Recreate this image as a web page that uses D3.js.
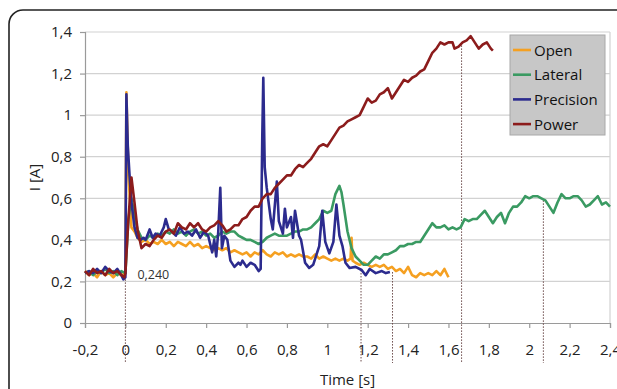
<!DOCTYPE html>
<html>
<head>
<meta charset="utf-8">
<script src="https://cdn.jsdelivr.net/npm/d3@7"></script>
<style>
body{margin:0;background:#fff;}
svg{display:block;font-family:"Open Sans",sans-serif;}
</style>
</head>
<body>
<svg width="617" height="389"></svg>
<script>
var app = app || {};

// values: [time (s), current (A)]
var seriesNames = ["Open", "Lateral", "Precision", "Power"];
var seriesColors = ["#f5a021", "#3a9a62", "#2c2b8e", "#8c1c1c"];

var openData = [[-0.20,0.25],[-0.18,0.23],[-0.16,0.24],[-0.14,0.22],[-0.12,0.25],[-0.10,0.23],[-0.08,0.24],[-0.06,0.22],[-0.04,0.24],[-0.02,0.23],[0.00,0.24],
  [0.005,1.11],[0.015,0.72],[0.03,0.46],[0.045,0.44],[0.06,0.41],[0.08,0.39],[0.10,0.40],[0.12,0.38],[0.14,0.39],[0.16,0.38],[0.18,0.40],[0.20,0.38],
  [0.22,0.39],[0.24,0.37],[0.26,0.39],[0.28,0.38],[0.30,0.37],[0.32,0.39],[0.34,0.37],[0.36,0.38],[0.38,0.36],[0.40,0.37],[0.42,0.36],[0.44,0.35],
  [0.46,0.36],[0.48,0.35],[0.50,0.36],[0.52,0.34],[0.54,0.35],[0.56,0.34],[0.58,0.33],[0.60,0.34],[0.62,0.32],[0.64,0.34],[0.66,0.33],[0.68,0.35],
  [0.70,0.33],[0.72,0.32],[0.74,0.34],[0.76,0.33],[0.78,0.34],[0.80,0.32],[0.82,0.33],[0.84,0.32],[0.86,0.33],[0.88,0.32],[0.90,0.32],[0.92,0.31],
  [0.94,0.33],[0.96,0.31],[0.98,0.32],[1.00,0.31],[1.02,0.30],[1.04,0.31],[1.06,0.30],[1.08,0.31],[1.10,0.30],[1.115,0.31],[1.12,0.41],[1.125,0.30],
  [1.14,0.29],[1.16,0.28],[1.18,0.29],[1.20,0.28],[1.22,0.27],[1.24,0.28],[1.26,0.27],[1.28,0.28],[1.30,0.26],[1.32,0.27],[1.34,0.25],[1.36,0.26],
  [1.38,0.24],[1.40,0.27],[1.42,0.23],[1.44,0.22],[1.46,0.24],[1.48,0.23],[1.50,0.24],[1.52,0.23],[1.54,0.25],[1.56,0.23],[1.58,0.26],[1.60,0.22]];

var lateralData = [[-0.20,0.24],[-0.18,0.25],[-0.16,0.23],[-0.14,0.25],[-0.12,0.24],[-0.10,0.26],[-0.08,0.24],[-0.06,0.25],[-0.04,0.23],[-0.02,0.25],[0.00,0.24],
  [0.015,0.50],[0.03,0.60],[0.045,0.52],[0.06,0.45],[0.08,0.41],[0.10,0.40],[0.12,0.42],[0.14,0.41],[0.16,0.43],[0.18,0.42],[0.20,0.44],[0.22,0.43],
  [0.24,0.45],[0.26,0.43],[0.28,0.44],[0.30,0.42],[0.32,0.44],[0.34,0.45],[0.36,0.43],[0.38,0.44],[0.40,0.42],[0.42,0.43],[0.44,0.41],[0.46,0.42],
  [0.48,0.44],[0.50,0.43],[0.52,0.44],[0.54,0.44],[0.56,0.42],[0.58,0.41],[0.60,0.40],[0.62,0.40],[0.64,0.39],[0.66,0.38],[0.68,0.39],[0.70,0.41],
  [0.72,0.42],[0.74,0.43],[0.76,0.42],[0.78,0.42],[0.80,0.42],[0.82,0.43],[0.84,0.44],[0.86,0.44],[0.88,0.45],[0.90,0.45],[0.92,0.46],[0.94,0.48],
  [0.96,0.50],[0.98,0.54],[1.00,0.53],[1.02,0.54],[1.04,0.62],[1.06,0.66],[1.07,0.63],[1.08,0.57],[1.10,0.44],[1.12,0.36],[1.14,0.32],[1.16,0.30],
  [1.18,0.28],[1.20,0.28],[1.22,0.30],[1.24,0.32],[1.26,0.31],[1.28,0.33],[1.30,0.33],[1.32,0.34],[1.34,0.35],[1.36,0.37],[1.38,0.37],[1.40,0.38],
  [1.42,0.38],[1.44,0.39],[1.46,0.39],[1.48,0.42],[1.50,0.45],[1.52,0.48],[1.54,0.46],[1.56,0.46],[1.58,0.47],[1.60,0.45],[1.62,0.46],[1.64,0.45],
  [1.66,0.46],[1.68,0.50],[1.70,0.49],[1.72,0.50],[1.74,0.50],[1.76,0.52],[1.78,0.54],[1.80,0.51],[1.82,0.48],[1.84,0.51],[1.86,0.53],[1.88,0.48],
  [1.90,0.53],[1.92,0.56],[1.94,0.56],[1.96,0.58],[1.98,0.61],[2.00,0.60],[2.02,0.61],[2.04,0.61],[2.06,0.60],[2.08,0.59],[2.10,0.56],[2.12,0.53],
  [2.14,0.58],[2.16,0.62],[2.18,0.60],[2.20,0.60],[2.22,0.61],[2.24,0.61],[2.26,0.59],[2.28,0.56],[2.30,0.57],[2.32,0.59],[2.34,0.61],[2.36,0.57],
  [2.38,0.58],[2.40,0.56]];

var precisionData = [[-0.20,0.24],[-0.18,0.25],[-0.16,0.24],[-0.14,0.26],[-0.12,0.24],[-0.10,0.27],[-0.08,0.25],[-0.06,0.24],[-0.04,0.26],[-0.02,0.23],[-0.01,0.21],[0.00,0.22],
  [0.005,1.10],[0.012,0.85],[0.02,0.72],[0.03,0.58],[0.045,0.46],[0.06,0.41],[0.075,0.40],[0.09,0.41],[0.10,0.40],[0.12,0.45],[0.135,0.41],[0.15,0.43],
  [0.17,0.42],[0.19,0.46],[0.20,0.50],[0.215,0.45],[0.23,0.44],[0.25,0.42],[0.27,0.46],[0.29,0.43],[0.31,0.44],[0.33,0.42],[0.35,0.45],[0.37,0.41],
  [0.39,0.44],[0.41,0.42],[0.43,0.34],[0.44,0.40],[0.45,0.32],[0.46,0.44],[0.47,0.65],[0.478,0.36],[0.49,0.42],[0.505,0.40],[0.52,0.30],[0.54,0.27],
  [0.56,0.29],[0.57,0.28],[0.58,0.30],[0.60,0.27],[0.62,0.29],[0.64,0.28],[0.66,0.25],[0.67,0.26],[0.678,0.90],[0.683,1.18],[0.69,0.75],[0.70,0.65],
  [0.72,0.50],[0.73,0.45],[0.75,0.68],[0.76,0.49],[0.78,0.43],[0.79,0.55],[0.80,0.46],[0.82,0.51],[0.83,0.41],[0.84,0.54],[0.86,0.42],[0.87,0.40],
  [0.89,0.29],[0.91,0.265],[0.93,0.28],[0.96,0.37],[0.975,0.54],[0.99,0.39],[1.01,0.335],[1.03,0.39],[1.045,0.57],[1.06,0.42],[1.075,0.37],[1.09,0.29],
  [1.11,0.265],[1.14,0.27],[1.17,0.255],[1.19,0.23],[1.21,0.26],[1.24,0.24],[1.27,0.25],[1.29,0.24],[1.31,0.245]];

var powerData = [[-0.20,0.25],[-0.18,0.23],[-0.16,0.26],[-0.14,0.24],[-0.12,0.25],[-0.10,0.23],[-0.08,0.26],[-0.06,0.24],[-0.04,0.25],[-0.02,0.23],[-0.005,0.22],
  [0.00,0.24],[0.015,0.50],[0.03,0.70],[0.045,0.58],[0.06,0.45],[0.08,0.36],[0.10,0.38],[0.12,0.37],[0.14,0.40],[0.16,0.42],[0.18,0.41],[0.20,0.44],
  [0.22,0.45],[0.24,0.43],[0.26,0.48],[0.28,0.46],[0.30,0.45],[0.32,0.48],[0.34,0.46],[0.36,0.48],[0.38,0.45],[0.40,0.44],[0.42,0.46],[0.44,0.47],
  [0.46,0.49],[0.48,0.47],[0.50,0.44],[0.52,0.45],[0.54,0.47],[0.56,0.47],[0.58,0.50],[0.60,0.51],[0.62,0.54],[0.64,0.56],[0.66,0.56],[0.68,0.60],
  [0.70,0.62],[0.72,0.62],[0.74,0.65],[0.76,0.67],[0.78,0.69],[0.80,0.71],[0.82,0.71],[0.84,0.74],[0.86,0.76],[0.88,0.75],[0.90,0.77],[0.92,0.79],
  [0.94,0.82],[0.96,0.85],[0.98,0.86],[1.00,0.85],[1.02,0.88],[1.04,0.91],[1.06,0.94],[1.08,0.95],[1.10,0.97],[1.12,0.98],[1.14,0.99],[1.16,1.00],
  [1.18,1.04],[1.20,1.08],[1.22,1.06],[1.24,1.07],[1.26,1.10],[1.28,1.11],[1.30,1.13],[1.32,1.08],[1.34,1.11],[1.36,1.14],[1.38,1.17],[1.40,1.16],
  [1.42,1.18],[1.44,1.19],[1.46,1.21],[1.48,1.22],[1.50,1.26],[1.52,1.30],[1.54,1.32],[1.56,1.35],[1.58,1.34],[1.60,1.35],[1.62,1.35],[1.63,1.32],
  [1.65,1.33],[1.67,1.35],[1.69,1.36],[1.71,1.38],[1.73,1.35],[1.75,1.32],[1.77,1.34],[1.79,1.35],[1.81,1.32],[1.82,1.31]];

var xTicks = [-0.2, 0, 0.2, 0.4, 0.6, 0.8, 1, 1.2, 1.4, 1.6, 1.8, 2, 2.2, 2.4];
var yTicks = [0, 0.2, 0.4, 0.6, 0.8, 1, 1.2, 1.4];

// dotted drop lines: time and the curve level they start from
var markerTimes = [0, 1.167, 1.323, 1.665, 2.07];
var markerLevels = [0.21, 0.255, 0.245, 1.35, 0.59];
var startNote = "0,240";

app.main = (function(){

function comma(d){ return String(d).replace(".", ","); }

function drawChart(){

	var svg = d3.select("svg");
	var left = 85, right = 610, top = 32, bottom = 323;

	var x = d3.scaleLinear().domain([-0.2, 2.4]).range([left, right]);
	var y = d3.scaleLinear().domain([0, 1.4]).range([bottom, top]);

	// outer rounded frame
	svg.append("rect")
	.attr("x", 9).attr("y", 10).attr("width", 700).attr("height", 500)
	.attr("rx", 14)
	.attr("fill", "none").attr("stroke", "#222").attr("stroke-width", 1.6);

	// grid
	svg.append("g").selectAll("line")
	.data(yTicks.slice(1))
	.enter().append("line")
	.attr("x1", left).attr("x2", right)
	.attr("y1", function(d){ return y(d); }).attr("y2", function(d){ return y(d); })
	.attr("stroke", "#d2d2d2").attr("stroke-width", 1.2);

	svg.append("line")
	.attr("x1", right).attr("x2", right).attr("y1", top).attr("y2", bottom)
	.attr("stroke", "#d2d2d2").attr("stroke-width", 1.2);

	// axes
	var xAxis = d3.axisBottom(x).tickValues(xTicks).tickSize(5).tickPadding(16).tickFormat(comma);
	var yAxis = d3.axisLeft(y).tickValues(yTicks).tickSize(5).tickPadding(8).tickFormat(comma);

	var gx = svg.append("g").attr("transform", "translate(0," + bottom + ")").call(xAxis);
	var gy = svg.append("g").attr("transform", "translate(" + left + ",0)").call(yAxis);

	[gx, gy].forEach(function(g){
		g.select(".domain").attr("stroke", "#9a9a9a").attr("stroke-width", 1.2);
		g.selectAll(".tick line").attr("stroke", "#9a9a9a").attr("stroke-width", 1.2);
		g.selectAll(".tick text")
		.attr("fill", "#222")
		.style("font-family", "'Open Sans', sans-serif")
		.style("font-size", "15px");
	});

	// dotted markers
	svg.append("g").selectAll("line")
	.data(markerTimes)
	.enter().append("line")
	.attr("x1", function(d){ return x(d); }).attr("x2", function(d){ return x(d); })
	.attr("y1", function(d, i){ return y(markerLevels[i]); })
	.attr("y2", bottom + 40)
	.attr("stroke", "#6b4a4a").attr("stroke-width", 1).attr("stroke-dasharray", "1.5,1.5");

	// series
	var line = d3.line()
	.x(function(d){ return x(d[0]); })
	.y(function(d){ return y(d[1]); });

	var allData = [openData, lateralData, precisionData, powerData];

	svg.append("g").selectAll("path")
	.data(allData)
	.enter().append("path")
	.attr("d", line)
	.attr("fill", "none")
	.attr("stroke", function(d, i){ return seriesColors[i]; })
	.attr("stroke-width", 2.6)
	.attr("stroke-linejoin", "round");

	// note at the trigger
	svg.append("text")
	.attr("x", x(0) + 12).attr("y", y(0.24) + 6)
	.attr("fill", "#333").style("font-size", "12.5px")
	.text(startNote);

	// axis titles
	svg.append("text")
	.attr("x", (left + right) / 2).attr("y", 385)
	.attr("text-anchor", "middle").attr("fill", "#222").style("font-size", "15px")
	.text("Time [s]");

	svg.append("text")
	.attr("transform", "translate(40," + ((top + bottom) / 2) + ") rotate(-90)")
	.attr("text-anchor", "middle").attr("fill", "#222").style("font-size", "15px")
	.text("I [A]");

	// legend
	var legend = svg.append("g").attr("transform", "translate(510,35)");
	legend.append("rect")
	.attr("width", 95).attr("height", 100)
	.attr("fill", "#c7c7c7").attr("stroke", "#a8a8a8");

	var item = legend.selectAll(".item")
	.data(seriesNames)
	.enter().append("g")
	.attr("class", "item")
	.attr("transform", function(d, i){ return "translate(0," + (15 + i * 24.7) + ")"; });

	item.append("line")
	.attr("x1", 3).attr("x2", 21)
	.attr("stroke", function(d, i){ return seriesColors[i]; })
	.attr("stroke-width", 2.6);

	item.append("text")
	.attr("x", 24).attr("y", 5.5)
	.attr("fill", "#111").style("font-size", "15px")
	.text(function(d){ return d; });
}

	var init = function(){
		drawChart();
	};

	return {
		init: init
	};
})();

window.addEventListener('DOMContentLoaded', app.main.init);
</script>
</body>
</html>
